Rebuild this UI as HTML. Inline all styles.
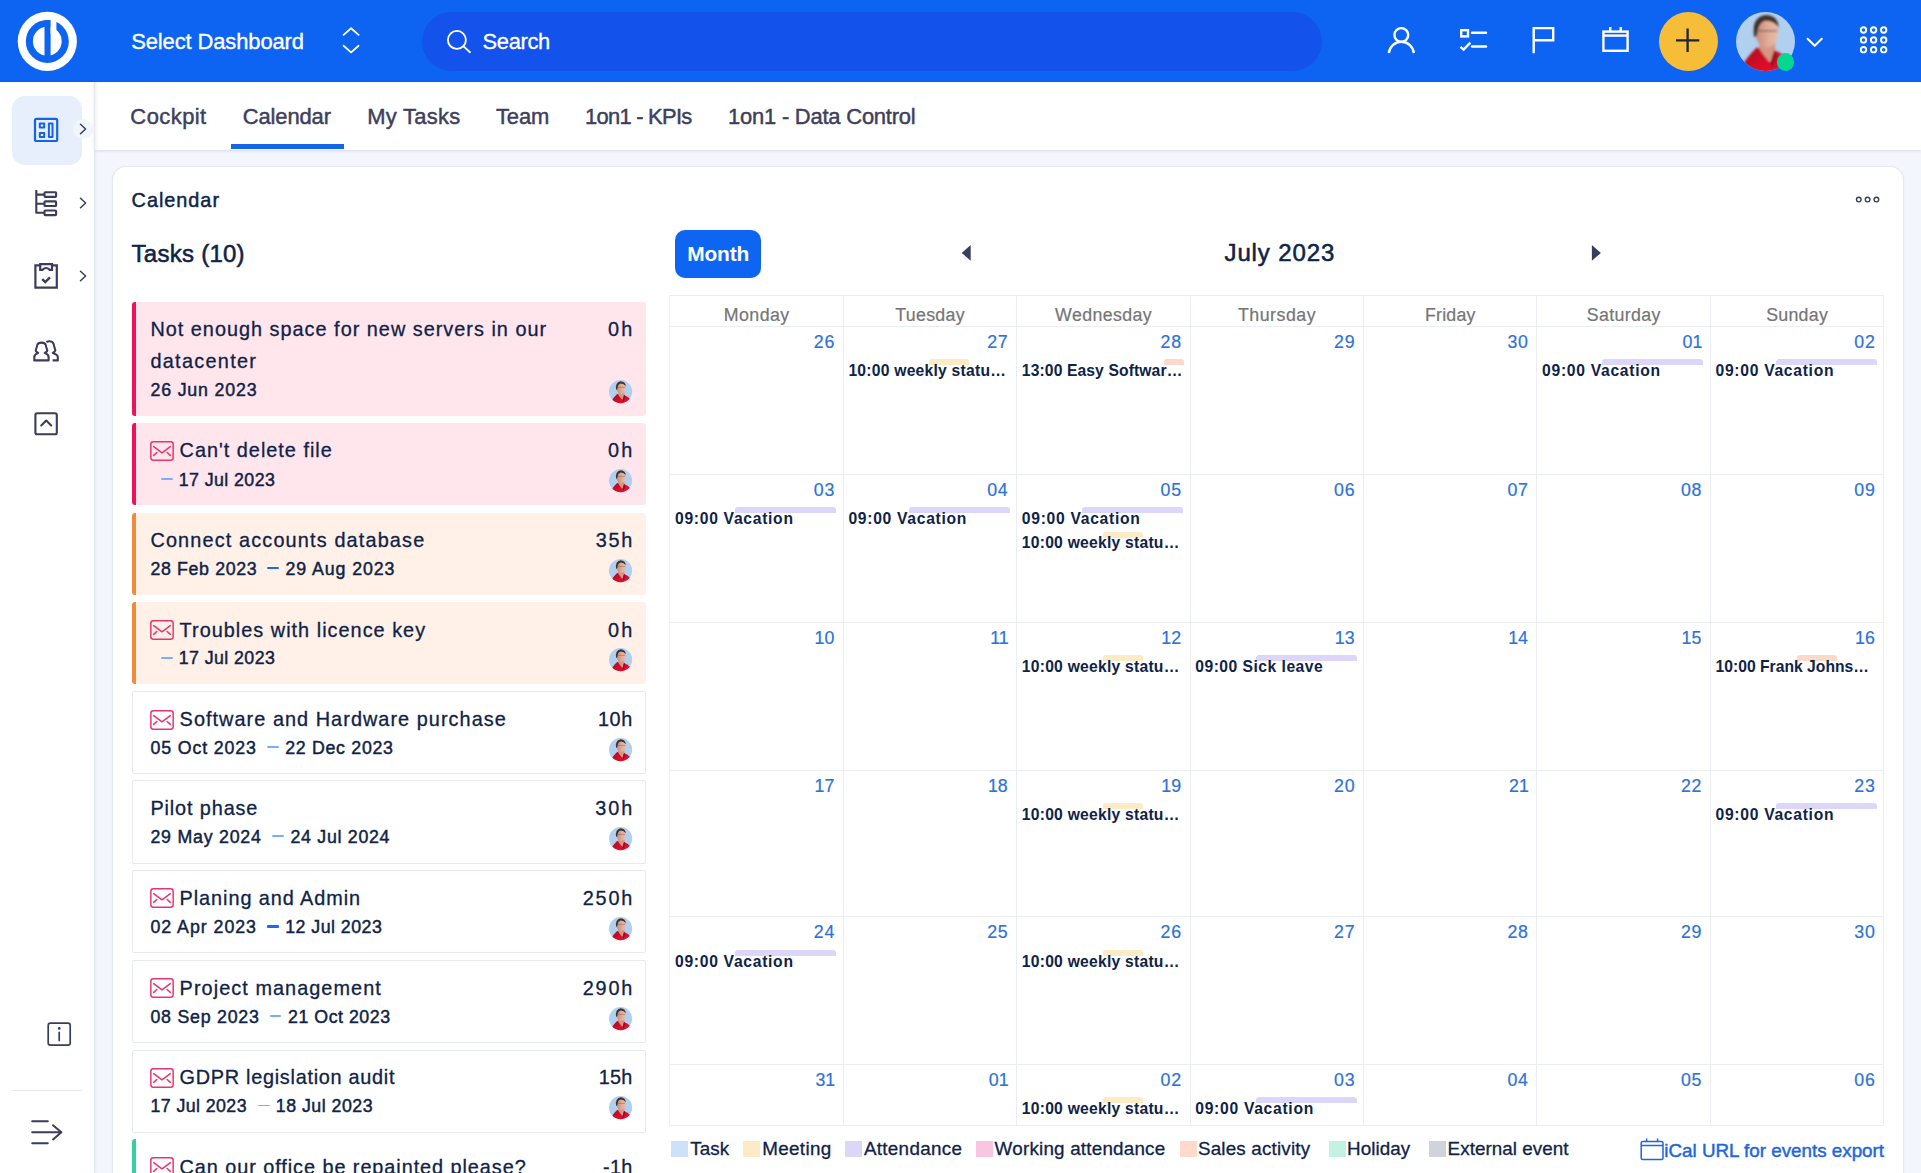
<!DOCTYPE html>
<html lang="en"><head><meta charset="utf-8"><title>Calendar - Easy Project</title>
<style>
*{box-sizing:border-box}
html,body{margin:0;padding:0}
body{width:1921px;height:1173px;overflow:hidden;background:#f3f6fc;font-family:"Liberation Sans",Arial,sans-serif;color:#0f2347;position:relative}
.t{position:absolute;white-space:pre;line-height:1;margin:0;padding:0;font-weight:400}
.abs{position:absolute}
button.t{background:none;border:0;font-family:inherit;cursor:pointer}
a.t{text-decoration:none}
h2.t,h3.t{font-weight:400}
svg{position:absolute;overflow:visible}
header{position:absolute;left:0;top:0;width:1921px;height:82.5px;background:#0d64f2}
.search{position:absolute;left:421.5px;top:12px;width:900px;height:59px;border-radius:30px;background:#1452ec}
.side{position:absolute;left:0;top:82px;width:94px;height:1091px;background:#fff;box-shadow:1px 0 3px rgba(30,50,90,.10)}
.tabs{position:absolute;left:94px;top:82px;width:1827px;height:67.8px;background:#fff;box-shadow:0 1px 3px rgba(30,50,90,.13),inset 4px 0 4px -3px rgba(30,50,90,.16)}
.card{position:absolute;left:112.6px;top:166.8px;width:1790.4px;height:1030px;background:#fff;border-radius:13px;box-shadow:0 0 0 1px #e4e8f0,0 1px 4px rgba(30,50,90,.06)}
.task{position:absolute;left:132px;width:514px;border-radius:3px}
.task.w{background:#fff;border:1px solid #e7eaf0;border-radius:2px}
.task.p{background:#ffe6ed;border-left:4px solid #ec1358}
.task.o{background:#fff0e8;border-left:4px solid #f08a3c}
.task.g{background:#fff;border-left:4px solid #35cfa0;}
.gl{position:absolute;background:#eaedf1}
.bar{position:absolute;height:6px;border-radius:3px 3px 0 0}
.sw{position:absolute;width:17px;height:16px;top:1140.5px}
</style></head><body>
<header><svg style="left:17px;top:11px" width="61" height="61" viewBox="17 11 61 61">
<circle cx="47.3" cy="41.4" r="29.6" fill="#fff"/>
<circle cx="47.3" cy="41.4" r="21.5" fill="#0d64f2"/>
<circle cx="47.3" cy="41.2" r="14.4" fill="#fff"/>
<rect x="44.5" y="20" width="6.1" height="36" fill="#0d64f2"/>
<path d="M50.6 14 H56.4 V31 L50.6 34 Z" fill="#fff"/>
</svg><span class="t" style="left:131.16px;top:31.00px;font-size:21.95px;letter-spacing:-0.102px;color:#fff;-webkit-text-stroke:0.35px currentColor;">Select Dashboard</span><svg style="left:340px;top:26px" width="22" height="30" viewBox="340 26 22 30" fill="none" stroke="#fff" stroke-width="1.8" stroke-linecap="round" stroke-linejoin="round">
<path d="M343.6 34.9 L351.1 28.3 L358.6 34.9"/><path d="M343.6 45.8 L351.1 52.4 L358.6 45.8"/></svg><div class="search"></div><svg style="left:445px;top:29px" width="28" height="26" viewBox="445 29 28 26" fill="none" stroke="#fff" stroke-width="1.85" stroke-linecap="round">
<circle cx="456.9" cy="39.9" r="9"/><path d="M463.6 46.4 L470 52.2"/></svg><span class="t" style="left:482.56px;top:31.00px;font-size:21.95px;letter-spacing:-0.371px;color:#fff;-webkit-text-stroke:0.3px currentColor;">Search</span><svg style="left:1380px;top:20px" width="260" height="40" viewBox="1380 20 260 40" fill="none" stroke="#fff" stroke-width="2.4" stroke-linecap="butt" stroke-linejoin="miter">
<circle cx="1401.3" cy="35" r="6.9"/>
<path d="M1388.8 53.2 A12.6 12.6 0 0 1 1413.9 53.2" />
<rect x="1461.2" y="30.2" width="6.8" height="6.2"/>
<path d="M1472 32.8 H1486" stroke-linecap="round"/>
<path d="M1472 46.5 H1486" stroke-linecap="round"/>
<path d="M1460.5 46.8 L1463.6 49.6 L1470.4 42.6"/>
<path d="M1533.7 53.2 V28.1 H1553.2 V40.3 H1533.7"/>
<rect x="1603.4" y="31.6" width="24.2" height="19.2"/>
<path d="M1603.4 35.6 H1627.6"/>
<path d="M1610.2 26.9 V31.6 M1620.7 26.9 V31.6"/>
</svg><div class="abs" style="left:1658.7px;top:11.7px;width:59.2px;height:59.2px;border-radius:50%;background:#f5bd38"></div><svg style="left:1670px;top:24px" width="36" height="36" viewBox="1670 24 36 36" stroke="#1d2433" stroke-width="2.3" fill="none"><path d="M1676 40.3 H1699.3 M1687.6 28.6 V52"/></svg><svg style="left:1735.50px;top:11.80px" width="59.00" height="59.00" viewBox="-1 -1 2 2">
<defs><clipPath id="ca0"><circle cx="0" cy="0" r="1"/></clipPath><filter id="fa0" x="-0.2" y="-0.2" width="1.4" height="1.4"><feGaussianBlur stdDeviation="0.04"/></filter>
<linearGradient id="sa0" x1="0" x2="1" y1="0" y2="0.6"><stop offset="0" stop-color="#a30c1e"/><stop offset="0.55" stop-color="#d80d2b"/><stop offset="1" stop-color="#e8102f"/></linearGradient>
<linearGradient id="ka0" x1="0" x2="1" y1="0" y2="0"><stop offset="0" stop-color="#c48a78"/><stop offset="0.6" stop-color="#e2ae9b"/><stop offset="1" stop-color="#e9bba9"/></linearGradient></defs>
<g clip-path="url(#ca0)">
<rect x="-1.2" y="-1.2" width="2.4" height="2.4" fill="#b1cfee"/>
<g filter="url(#fa0)">
<path d="M-0.2 0.0 L-0.24 0.3 L0.1 0.7 L0.36 0.4 L0.3 0.0 Z" fill="#d39783"/>
<path d="M-0.85 1.2 L-0.7 0.66 Q-0.52 0.42 -0.3 0.2 L-0.22 0.22 Q-0.05 0.5 0.16 0.72 L0.3 0.3 Q0.64 0.44 0.8 0.62 L0.98 1.2 Z" fill="url(#sa0)"/>
<path d="M0.16 0.72 L0.3 0.3 L0.4 0.44 L0.24 0.9 Z" fill="#9c0b1c"/>
<ellipse cx="0.04" cy="-0.32" rx="0.38" ry="0.52" fill="url(#ka0)"/>
<path d="M-0.38 -0.14 Q-0.5 -0.82 0.0 -0.9 Q0.44 -0.88 0.44 -0.46 Q0.3 -0.7 0.02 -0.7 Q-0.24 -0.68 -0.29 -0.2 Z" fill="#40322c"/>
<path d="M-0.3 -0.36 H0.4" stroke="#6e534a" stroke-width="0.055" stroke-opacity="0.65" fill="none"/>
</g></g></svg><div class="abs" style="left:1776.8px;top:53.4px;width:17.6px;height:17.6px;border-radius:50%;background:#05d690"></div><svg style="left:1805px;top:36px" width="20" height="14" viewBox="1805 36 20 14" fill="none" stroke="#fff" stroke-width="2" stroke-linecap="round" stroke-linejoin="round"><path d="M1807.6 38.8 L1814.7 45.8 L1821.8 38.8"/></svg><svg style="left:1858px;top:24px" width="32" height="32" viewBox="1858 24 32 32" fill="none" stroke="#fff" stroke-width="1.9"><circle cx="1863.5" cy="30" r="2.7"/><circle cx="1863.5" cy="39.9" r="2.7"/><circle cx="1863.5" cy="49.7" r="2.7"/><circle cx="1873.6" cy="30" r="2.7"/><circle cx="1873.6" cy="39.9" r="2.7"/><circle cx="1873.6" cy="49.7" r="2.7"/><circle cx="1883.7" cy="30" r="2.7"/><circle cx="1883.7" cy="39.9" r="2.7"/><circle cx="1883.7" cy="49.7" r="2.7"/></svg></header><div class="side"></div><nav aria-label="Main menu"><div class="abs" style="left:12px;top:96px;width:69.5px;height:69px;border-radius:13px;background:#e7effc"></div><div class="abs" style="left:73px;top:119px;width:20px;height:20px;border-radius:50%;background:#f1f5fd"></div><svg style="left:33px;top:117px" width="27" height="27" viewBox="33 117 27 27" fill="none" stroke="#1763e6" stroke-width="2.2" stroke-linejoin="round">
<rect x="35" y="118.8" width="22.2" height="22.2" rx="1.6"/>
<rect x="39.8" y="123.4" width="4.4" height="4.2" stroke-width="2"/>
<rect x="39.8" y="132.9" width="4.4" height="4.2" stroke-width="2"/>
<rect x="48.9" y="123.4" width="3.6" height="13.7" stroke-width="2"/>
</svg><svg style="left:76.8px;top:121.4px" width="12" height="16" viewBox="76.8 121.4 12 16" fill="none" stroke="#3a3d5c" stroke-width="1.5" stroke-linecap="round" stroke-linejoin="round"><path d="M80.3 124.60000000000001 L85.39999999999999 129.4 L80.3 134.20000000000002"/></svg><svg style="left:76.8px;top:194.7px" width="12" height="16" viewBox="76.8 194.7 12 16" fill="none" stroke="#3a3d5c" stroke-width="1.5" stroke-linecap="round" stroke-linejoin="round"><path d="M80.3 197.89999999999998 L85.39999999999999 202.7 L80.3 207.5"/></svg><svg style="left:76.8px;top:268.2px" width="12" height="16" viewBox="76.8 268.2 12 16" fill="none" stroke="#3a3d5c" stroke-width="1.5" stroke-linecap="round" stroke-linejoin="round"><path d="M80.3 271.4 L85.39999999999999 276.2 L80.3 281.0"/></svg><svg style="left:33px;top:188px" width="27" height="30" viewBox="33 188 27 30" fill="none" stroke="#3a3d5c" stroke-width="2.1" stroke-linejoin="round">
<path d="M36.3 189.9 V212.8 H44.5 M36.3 194.6 H44.5 M36.3 203.7 H44.5"/>
<rect x="44.5" y="192.3" width="11.6" height="4.6" rx="0.8"/>
<rect x="44.5" y="201.4" width="11.6" height="4.6" rx="0.8"/>
<rect x="44.5" y="210.5" width="11.6" height="4.6" rx="0.8"/>
</svg><svg style="left:33px;top:261px" width="27" height="30" viewBox="33 261 27 30" fill="none" stroke="#3a3d5c" stroke-width="2.2" stroke-linejoin="miter">
<path d="M40.2 265.4 H35.4 V287.7 H56.8 V265.4 H52"/>
<path d="M40.2 264.2 H52 V269.8 H49.6 Q46.1 266.2 42.6 269.8 H40.2 Z"/>
<path d="M42.2 279.2 L45.2 282 L50 277.4" stroke-width="2.4"/>
</svg><svg style="left:32px;top:339px" width="29" height="25" viewBox="32 339 29 25" fill="none" stroke="#3a3d5c" stroke-width="2.1" stroke-linejoin="round">
<path d="M34.3 360.4 V357 Q34.3 354.6 38.2 352.9 Q35.4 351.4 35.8 350 Q37 346.8 37.2 345 Q38 342.6 41.5 342.6 Q45 342.6 45.8 345 Q46 346.8 47.2 350 Q47.6 351.4 44.8 352.9 Q48.6 354.6 48.6 357 V360.4 Z"/>
<path d="M46.4 342 Q47.6 341.3 49.2 341.3 Q53 341.3 53.8 344.6 Q54.2 346.8 55.3 350 Q55.6 351.4 52.8 352.9 Q57.8 354.4 57.8 357 V360.4 H52.6"/>
</svg><svg style="left:33px;top:411px" width="27" height="26" viewBox="33 411 27 26" fill="none" stroke="#3a3d5c" stroke-width="2.1" stroke-linejoin="round" stroke-linecap="round">
<rect x="35.4" y="413.2" width="21.4" height="21" rx="1.8"/>
<path d="M41.3 425.4 L46.2 420.6 L51.2 425.4"/>
</svg><svg style="left:46px;top:1021px" width="27" height="27" viewBox="46 1021 27 27" fill="none" stroke="#3a3d5c" stroke-width="1.7" stroke-linejoin="round" stroke-linecap="round">
<rect x="48.2" y="1023.2" width="22" height="22" rx="2.2"/>
<path d="M59.2 1032.4 V1040.4"/><circle cx="59.2" cy="1028.4" r="0.6" fill="#3a3d5c"/>
</svg><div class="abs" style="left:12px;top:1089.5px;width:69.5px;height:1px;background:#e8ebf1"></div><svg style="left:30px;top:1118px" width="34" height="28" viewBox="30 1118 34 28" fill="none" stroke="#3a3d5c" stroke-width="2" stroke-linecap="round" stroke-linejoin="round">
<path d="M32.2 1121.2 H47.8 M32.2 1132.3 H61 M32.2 1143.3 H47.8 M53 1125.2 L61.4 1132.3 L53 1139.4"/>
</svg></nav><div class="tabs"></div><nav aria-label="Dashboard tabs"><a class="t" style="left:130.36px;top:106.00px;font-size:21.95px;letter-spacing:0.450px;color:#3d405c;-webkit-text-stroke:0.45px currentColor;">Cockpit</a><a class="t" style="left:242.66px;top:106.00px;font-size:21.95px;letter-spacing:-0.096px;color:#3d405c;-webkit-text-stroke:0.45px currentColor;">Calendar</a><a class="t" style="left:367.26px;top:106.00px;font-size:21.95px;letter-spacing:0.263px;color:#3d405c;-webkit-text-stroke:0.45px currentColor;">My Tasks</a><a class="t" style="left:496.06px;top:106.00px;font-size:21.95px;letter-spacing:-0.166px;color:#3d405c;-webkit-text-stroke:0.45px currentColor;">Team</a><a class="t" style="left:585.06px;top:106.00px;font-size:21.95px;letter-spacing:-0.748px;color:#3d405c;-webkit-text-stroke:0.45px currentColor;">1on1 - KPIs</a><a class="t" style="left:728.06px;top:106.00px;font-size:21.95px;letter-spacing:-0.211px;color:#3d405c;-webkit-text-stroke:0.45px currentColor;">1on1 - Data Control</a><div class="abs" style="left:230.5px;top:144.3px;width:113.5px;height:4.4px;background:#1466e8"></div></nav><main><div class="card"></div><h2 class="t" style="left:131.60px;top:191.00px;font-size:19.85px;letter-spacing:0.981px;color:#0f2347;-webkit-text-stroke:0.45px currentColor;">Calendar</h2><svg style="left:1854px;top:195px" width="28" height="10" viewBox="1854 195 28 10" fill="none" stroke="#3a3d5c" stroke-width="1.4">
<circle cx="1858.8" cy="199.6" r="2.3"/><circle cx="1867.6" cy="199.6" r="2.3"/><circle cx="1876.4" cy="199.6" r="2.3"/></svg><section aria-label="Tasks"><h3 class="t" style="left:131.52px;top:242.00px;font-size:24.03px;letter-spacing:0.260px;color:#0f2347;-webkit-text-stroke:0.55px currentColor;">Tasks (10)</h3><article><div class="task p" style="top:302px;height:113.5px"></div><span class="t" style="left:150.40px;top:320.00px;font-size:19.85px;letter-spacing:1.008px;color:#0f2347;-webkit-text-stroke:0.3px currentColor;">Not enough space for new servers in our</span><span class="t" style="left:608.10px;top:320.00px;font-size:19.85px;letter-spacing:2.122px;color:#0f2347;-webkit-text-stroke:0.3px currentColor;">0h</span><span class="t" style="left:150.40px;top:352.00px;font-size:19.85px;letter-spacing:1.313px;color:#0f2347;-webkit-text-stroke:0.3px currentColor;">datacenter</span><span class="t" style="left:150.44px;top:382.00px;font-size:17.77px;letter-spacing:0.832px;color:#0f2347;-webkit-text-stroke:0.45px currentColor;">26 Jun 2023</span><svg style="left:609.00px;top:379.70px" width="23.20" height="23.20" viewBox="-1 -1 2 2">
<defs><clipPath id="ct0"><circle cx="0" cy="0" r="1"/></clipPath><filter id="ft0" x="-0.2" y="-0.2" width="1.4" height="1.4"><feGaussianBlur stdDeviation="0.04"/></filter>
<linearGradient id="st0" x1="0" x2="1" y1="0" y2="0.6"><stop offset="0" stop-color="#a30c1e"/><stop offset="0.55" stop-color="#d80d2b"/><stop offset="1" stop-color="#e8102f"/></linearGradient>
<linearGradient id="kt0" x1="0" x2="1" y1="0" y2="0"><stop offset="0" stop-color="#c48a78"/><stop offset="0.6" stop-color="#e2ae9b"/><stop offset="1" stop-color="#e9bba9"/></linearGradient></defs>
<g clip-path="url(#ct0)">
<rect x="-1.2" y="-1.2" width="2.4" height="2.4" fill="#b1cfee"/>
<g filter="url(#ft0)">
<path d="M-0.2 0.0 L-0.24 0.3 L0.1 0.7 L0.36 0.4 L0.3 0.0 Z" fill="#d39783"/>
<path d="M-0.85 1.2 L-0.7 0.66 Q-0.52 0.42 -0.3 0.2 L-0.22 0.22 Q-0.05 0.5 0.16 0.72 L0.3 0.3 Q0.64 0.44 0.8 0.62 L0.98 1.2 Z" fill="url(#st0)"/>
<path d="M0.16 0.72 L0.3 0.3 L0.4 0.44 L0.24 0.9 Z" fill="#9c0b1c"/>
<ellipse cx="0.04" cy="-0.32" rx="0.38" ry="0.52" fill="url(#kt0)"/>
<path d="M-0.38 -0.14 Q-0.5 -0.82 0.0 -0.9 Q0.44 -0.88 0.44 -0.46 Q0.3 -0.7 0.02 -0.7 Q-0.24 -0.68 -0.29 -0.2 Z" fill="#40322c"/>
<path d="M-0.3 -0.36 H0.4" stroke="#6e534a" stroke-width="0.055" stroke-opacity="0.65" fill="none"/>
</g></g></svg></article><article><div class="task p" style="top:422.8px;height:82.2px"></div><svg style="left:150.2px;top:440.5px" width="24" height="20" viewBox="0 0 24 20" fill="none" stroke="#e9356f" stroke-width="1.5" stroke-linejoin="round" stroke-linecap="round">
<rect x="0.85" y="0.85" width="22.3" height="18.3" rx="2.4"/>
<path d="M3.7 5.6 L12 11.8 L20.3 5.6"/><path d="M3.7 14.4 L6.8 11.5 M20.3 14.4 L17.2 11.5"/></svg><span class="t" style="left:179.60px;top:441.00px;font-size:19.85px;letter-spacing:1.001px;color:#0f2347;-webkit-text-stroke:0.3px currentColor;">Can't delete file</span><span class="t" style="left:608.10px;top:441.00px;font-size:19.85px;letter-spacing:2.122px;color:#0f2347;-webkit-text-stroke:0.3px currentColor;">0h</span><div class="abs" style="left:161px;top:478.4px;width:11.7px;height:1.8px;border-radius:1px;background:#7aaef6"></div><span class="t" style="left:178.74px;top:472.00px;font-size:17.77px;letter-spacing:0.426px;color:#0f2347;-webkit-text-stroke:0.45px currentColor;">17 Jul 2023</span><svg style="left:609.00px;top:468.80px" width="23.20" height="23.20" viewBox="-1 -1 2 2">
<defs><clipPath id="ct1"><circle cx="0" cy="0" r="1"/></clipPath><filter id="ft1" x="-0.2" y="-0.2" width="1.4" height="1.4"><feGaussianBlur stdDeviation="0.04"/></filter>
<linearGradient id="st1" x1="0" x2="1" y1="0" y2="0.6"><stop offset="0" stop-color="#a30c1e"/><stop offset="0.55" stop-color="#d80d2b"/><stop offset="1" stop-color="#e8102f"/></linearGradient>
<linearGradient id="kt1" x1="0" x2="1" y1="0" y2="0"><stop offset="0" stop-color="#c48a78"/><stop offset="0.6" stop-color="#e2ae9b"/><stop offset="1" stop-color="#e9bba9"/></linearGradient></defs>
<g clip-path="url(#ct1)">
<rect x="-1.2" y="-1.2" width="2.4" height="2.4" fill="#b1cfee"/>
<g filter="url(#ft1)">
<path d="M-0.2 0.0 L-0.24 0.3 L0.1 0.7 L0.36 0.4 L0.3 0.0 Z" fill="#d39783"/>
<path d="M-0.85 1.2 L-0.7 0.66 Q-0.52 0.42 -0.3 0.2 L-0.22 0.22 Q-0.05 0.5 0.16 0.72 L0.3 0.3 Q0.64 0.44 0.8 0.62 L0.98 1.2 Z" fill="url(#st1)"/>
<path d="M0.16 0.72 L0.3 0.3 L0.4 0.44 L0.24 0.9 Z" fill="#9c0b1c"/>
<ellipse cx="0.04" cy="-0.32" rx="0.38" ry="0.52" fill="url(#kt1)"/>
<path d="M-0.38 -0.14 Q-0.5 -0.82 0.0 -0.9 Q0.44 -0.88 0.44 -0.46 Q0.3 -0.7 0.02 -0.7 Q-0.24 -0.68 -0.29 -0.2 Z" fill="#40322c"/>
<path d="M-0.3 -0.36 H0.4" stroke="#6e534a" stroke-width="0.055" stroke-opacity="0.65" fill="none"/>
</g></g></svg></article><article><div class="task o" style="top:512.5px;height:82.2px"></div><span class="t" style="left:150.40px;top:531.00px;font-size:19.85px;letter-spacing:1.157px;color:#0f2347;-webkit-text-stroke:0.3px currentColor;">Connect accounts database</span><span class="t" style="left:595.80px;top:531.00px;font-size:19.85px;letter-spacing:1.695px;color:#0f2347;-webkit-text-stroke:0.3px currentColor;">35h</span><span class="t" style="left:150.44px;top:561.00px;font-size:17.77px;letter-spacing:0.635px;color:#0f2347;-webkit-text-stroke:0.45px currentColor;">28 Feb 2023</span><div class="abs" style="left:267.4px;top:567.0px;width:11.7px;height:2.4px;border-radius:1px;background:#1a6af0"></div><span class="t" style="left:285.44px;top:561.00px;font-size:17.77px;letter-spacing:0.924px;color:#0f2347;-webkit-text-stroke:0.45px currentColor;">29 Aug 2023</span><svg style="left:609.00px;top:558.50px" width="23.20" height="23.20" viewBox="-1 -1 2 2">
<defs><clipPath id="ct2"><circle cx="0" cy="0" r="1"/></clipPath><filter id="ft2" x="-0.2" y="-0.2" width="1.4" height="1.4"><feGaussianBlur stdDeviation="0.04"/></filter>
<linearGradient id="st2" x1="0" x2="1" y1="0" y2="0.6"><stop offset="0" stop-color="#a30c1e"/><stop offset="0.55" stop-color="#d80d2b"/><stop offset="1" stop-color="#e8102f"/></linearGradient>
<linearGradient id="kt2" x1="0" x2="1" y1="0" y2="0"><stop offset="0" stop-color="#c48a78"/><stop offset="0.6" stop-color="#e2ae9b"/><stop offset="1" stop-color="#e9bba9"/></linearGradient></defs>
<g clip-path="url(#ct2)">
<rect x="-1.2" y="-1.2" width="2.4" height="2.4" fill="#b1cfee"/>
<g filter="url(#ft2)">
<path d="M-0.2 0.0 L-0.24 0.3 L0.1 0.7 L0.36 0.4 L0.3 0.0 Z" fill="#d39783"/>
<path d="M-0.85 1.2 L-0.7 0.66 Q-0.52 0.42 -0.3 0.2 L-0.22 0.22 Q-0.05 0.5 0.16 0.72 L0.3 0.3 Q0.64 0.44 0.8 0.62 L0.98 1.2 Z" fill="url(#st2)"/>
<path d="M0.16 0.72 L0.3 0.3 L0.4 0.44 L0.24 0.9 Z" fill="#9c0b1c"/>
<ellipse cx="0.04" cy="-0.32" rx="0.38" ry="0.52" fill="url(#kt2)"/>
<path d="M-0.38 -0.14 Q-0.5 -0.82 0.0 -0.9 Q0.44 -0.88 0.44 -0.46 Q0.3 -0.7 0.02 -0.7 Q-0.24 -0.68 -0.29 -0.2 Z" fill="#40322c"/>
<path d="M-0.3 -0.36 H0.4" stroke="#6e534a" stroke-width="0.055" stroke-opacity="0.65" fill="none"/>
</g></g></svg></article><article><div class="task o" style="top:602.4px;height:82px"></div><svg style="left:150.2px;top:620.1px" width="24" height="20" viewBox="0 0 24 20" fill="none" stroke="#e9356f" stroke-width="1.5" stroke-linejoin="round" stroke-linecap="round">
<rect x="0.85" y="0.85" width="22.3" height="18.3" rx="2.4"/>
<path d="M3.7 5.6 L12 11.8 L20.3 5.6"/><path d="M3.7 14.4 L6.8 11.5 M20.3 14.4 L17.2 11.5"/></svg><span class="t" style="left:179.60px;top:621.00px;font-size:19.85px;letter-spacing:1.023px;color:#0f2347;-webkit-text-stroke:0.3px currentColor;">Troubles with licence key</span><span class="t" style="left:608.10px;top:621.00px;font-size:19.85px;letter-spacing:2.122px;color:#0f2347;-webkit-text-stroke:0.3px currentColor;">0h</span><div class="abs" style="left:161px;top:656.9px;width:11.7px;height:1.8px;border-radius:1px;background:#7aaef6"></div><span class="t" style="left:178.74px;top:650.00px;font-size:17.77px;letter-spacing:0.426px;color:#0f2347;-webkit-text-stroke:0.45px currentColor;">17 Jul 2023</span><svg style="left:609.00px;top:648.40px" width="23.20" height="23.20" viewBox="-1 -1 2 2">
<defs><clipPath id="ct3"><circle cx="0" cy="0" r="1"/></clipPath><filter id="ft3" x="-0.2" y="-0.2" width="1.4" height="1.4"><feGaussianBlur stdDeviation="0.04"/></filter>
<linearGradient id="st3" x1="0" x2="1" y1="0" y2="0.6"><stop offset="0" stop-color="#a30c1e"/><stop offset="0.55" stop-color="#d80d2b"/><stop offset="1" stop-color="#e8102f"/></linearGradient>
<linearGradient id="kt3" x1="0" x2="1" y1="0" y2="0"><stop offset="0" stop-color="#c48a78"/><stop offset="0.6" stop-color="#e2ae9b"/><stop offset="1" stop-color="#e9bba9"/></linearGradient></defs>
<g clip-path="url(#ct3)">
<rect x="-1.2" y="-1.2" width="2.4" height="2.4" fill="#b1cfee"/>
<g filter="url(#ft3)">
<path d="M-0.2 0.0 L-0.24 0.3 L0.1 0.7 L0.36 0.4 L0.3 0.0 Z" fill="#d39783"/>
<path d="M-0.85 1.2 L-0.7 0.66 Q-0.52 0.42 -0.3 0.2 L-0.22 0.22 Q-0.05 0.5 0.16 0.72 L0.3 0.3 Q0.64 0.44 0.8 0.62 L0.98 1.2 Z" fill="url(#st3)"/>
<path d="M0.16 0.72 L0.3 0.3 L0.4 0.44 L0.24 0.9 Z" fill="#9c0b1c"/>
<ellipse cx="0.04" cy="-0.32" rx="0.38" ry="0.52" fill="url(#kt3)"/>
<path d="M-0.38 -0.14 Q-0.5 -0.82 0.0 -0.9 Q0.44 -0.88 0.44 -0.46 Q0.3 -0.7 0.02 -0.7 Q-0.24 -0.68 -0.29 -0.2 Z" fill="#40322c"/>
<path d="M-0.3 -0.36 H0.4" stroke="#6e534a" stroke-width="0.055" stroke-opacity="0.65" fill="none"/>
</g></g></svg></article><article><div class="task w" style="top:691.3px;height:83.0px"></div><svg style="left:150.2px;top:709.5px" width="24" height="20" viewBox="0 0 24 20" fill="none" stroke="#e9356f" stroke-width="1.5" stroke-linejoin="round" stroke-linecap="round">
<rect x="0.85" y="0.85" width="22.3" height="18.3" rx="2.4"/>
<path d="M3.7 5.6 L12 11.8 L20.3 5.6"/><path d="M3.7 14.4 L6.8 11.5 M20.3 14.4 L17.2 11.5"/></svg><span class="t" style="left:179.60px;top:710.00px;font-size:19.85px;letter-spacing:1.054px;color:#0f2347;-webkit-text-stroke:0.3px currentColor;">Software and Hardware purchase</span><span class="t" style="left:597.90px;top:710.00px;font-size:19.85px;letter-spacing:0.645px;color:#0f2347;-webkit-text-stroke:0.3px currentColor;">10h</span><span class="t" style="left:150.44px;top:740.00px;font-size:17.77px;letter-spacing:0.874px;color:#0f2347;-webkit-text-stroke:0.45px currentColor;">05 Oct 2023</span><div class="abs" style="left:267.4px;top:746.3px;width:11.7px;height:1.8px;border-radius:1px;background:#7aaef6"></div><span class="t" style="left:285.14px;top:740.00px;font-size:17.77px;letter-spacing:0.708px;color:#0f2347;-webkit-text-stroke:0.45px currentColor;">22 Dec 2023</span><svg style="left:609.00px;top:737.80px" width="23.20" height="23.20" viewBox="-1 -1 2 2">
<defs><clipPath id="ct4"><circle cx="0" cy="0" r="1"/></clipPath><filter id="ft4" x="-0.2" y="-0.2" width="1.4" height="1.4"><feGaussianBlur stdDeviation="0.04"/></filter>
<linearGradient id="st4" x1="0" x2="1" y1="0" y2="0.6"><stop offset="0" stop-color="#a30c1e"/><stop offset="0.55" stop-color="#d80d2b"/><stop offset="1" stop-color="#e8102f"/></linearGradient>
<linearGradient id="kt4" x1="0" x2="1" y1="0" y2="0"><stop offset="0" stop-color="#c48a78"/><stop offset="0.6" stop-color="#e2ae9b"/><stop offset="1" stop-color="#e9bba9"/></linearGradient></defs>
<g clip-path="url(#ct4)">
<rect x="-1.2" y="-1.2" width="2.4" height="2.4" fill="#b1cfee"/>
<g filter="url(#ft4)">
<path d="M-0.2 0.0 L-0.24 0.3 L0.1 0.7 L0.36 0.4 L0.3 0.0 Z" fill="#d39783"/>
<path d="M-0.85 1.2 L-0.7 0.66 Q-0.52 0.42 -0.3 0.2 L-0.22 0.22 Q-0.05 0.5 0.16 0.72 L0.3 0.3 Q0.64 0.44 0.8 0.62 L0.98 1.2 Z" fill="url(#st4)"/>
<path d="M0.16 0.72 L0.3 0.3 L0.4 0.44 L0.24 0.9 Z" fill="#9c0b1c"/>
<ellipse cx="0.04" cy="-0.32" rx="0.38" ry="0.52" fill="url(#kt4)"/>
<path d="M-0.38 -0.14 Q-0.5 -0.82 0.0 -0.9 Q0.44 -0.88 0.44 -0.46 Q0.3 -0.7 0.02 -0.7 Q-0.24 -0.68 -0.29 -0.2 Z" fill="#40322c"/>
<path d="M-0.3 -0.36 H0.4" stroke="#6e534a" stroke-width="0.055" stroke-opacity="0.65" fill="none"/>
</g></g></svg></article><article><div class="task w" style="top:780.4px;height:83.2px"></div><span class="t" style="left:150.40px;top:799.00px;font-size:19.85px;letter-spacing:0.881px;color:#0f2347;-webkit-text-stroke:0.3px currentColor;">Pilot phase</span><span class="t" style="left:595.20px;top:799.00px;font-size:19.85px;letter-spacing:1.995px;color:#0f2347;-webkit-text-stroke:0.3px currentColor;">30h</span><span class="t" style="left:150.44px;top:829.00px;font-size:17.77px;letter-spacing:0.771px;color:#0f2347;-webkit-text-stroke:0.45px currentColor;">29 May 2024</span><div class="abs" style="left:272.4px;top:835.4px;width:11.7px;height:1.8px;border-radius:1px;background:#7aaef6"></div><span class="t" style="left:290.44px;top:829.00px;font-size:17.77px;letter-spacing:0.716px;color:#0f2347;-webkit-text-stroke:0.45px currentColor;">24 Jul 2024</span><svg style="left:609.00px;top:826.90px" width="23.20" height="23.20" viewBox="-1 -1 2 2">
<defs><clipPath id="ct5"><circle cx="0" cy="0" r="1"/></clipPath><filter id="ft5" x="-0.2" y="-0.2" width="1.4" height="1.4"><feGaussianBlur stdDeviation="0.04"/></filter>
<linearGradient id="st5" x1="0" x2="1" y1="0" y2="0.6"><stop offset="0" stop-color="#a30c1e"/><stop offset="0.55" stop-color="#d80d2b"/><stop offset="1" stop-color="#e8102f"/></linearGradient>
<linearGradient id="kt5" x1="0" x2="1" y1="0" y2="0"><stop offset="0" stop-color="#c48a78"/><stop offset="0.6" stop-color="#e2ae9b"/><stop offset="1" stop-color="#e9bba9"/></linearGradient></defs>
<g clip-path="url(#ct5)">
<rect x="-1.2" y="-1.2" width="2.4" height="2.4" fill="#b1cfee"/>
<g filter="url(#ft5)">
<path d="M-0.2 0.0 L-0.24 0.3 L0.1 0.7 L0.36 0.4 L0.3 0.0 Z" fill="#d39783"/>
<path d="M-0.85 1.2 L-0.7 0.66 Q-0.52 0.42 -0.3 0.2 L-0.22 0.22 Q-0.05 0.5 0.16 0.72 L0.3 0.3 Q0.64 0.44 0.8 0.62 L0.98 1.2 Z" fill="url(#st5)"/>
<path d="M0.16 0.72 L0.3 0.3 L0.4 0.44 L0.24 0.9 Z" fill="#9c0b1c"/>
<ellipse cx="0.04" cy="-0.32" rx="0.38" ry="0.52" fill="url(#kt5)"/>
<path d="M-0.38 -0.14 Q-0.5 -0.82 0.0 -0.9 Q0.44 -0.88 0.44 -0.46 Q0.3 -0.7 0.02 -0.7 Q-0.24 -0.68 -0.29 -0.2 Z" fill="#40322c"/>
<path d="M-0.3 -0.36 H0.4" stroke="#6e534a" stroke-width="0.055" stroke-opacity="0.65" fill="none"/>
</g></g></svg></article><article><div class="task w" style="top:870.2px;height:83.2px"></div><svg style="left:150.2px;top:888.4000000000001px" width="24" height="20" viewBox="0 0 24 20" fill="none" stroke="#e9356f" stroke-width="1.5" stroke-linejoin="round" stroke-linecap="round">
<rect x="0.85" y="0.85" width="22.3" height="18.3" rx="2.4"/>
<path d="M3.7 5.6 L12 11.8 L20.3 5.6"/><path d="M3.7 14.4 L6.8 11.5 M20.3 14.4 L17.2 11.5"/></svg><span class="t" style="left:179.60px;top:889.00px;font-size:19.85px;letter-spacing:0.938px;color:#0f2347;-webkit-text-stroke:0.3px currentColor;">Planing and Admin</span><span class="t" style="left:582.70px;top:889.00px;font-size:19.85px;letter-spacing:1.813px;color:#0f2347;-webkit-text-stroke:0.3px currentColor;">250h</span><span class="t" style="left:150.44px;top:919.00px;font-size:17.77px;letter-spacing:0.970px;color:#0f2347;-webkit-text-stroke:0.45px currentColor;">02 Apr 2023</span><div class="abs" style="left:267.4px;top:925.2px;width:11.7px;height:2.4px;border-radius:1px;background:#1a6af0"></div><span class="t" style="left:285.14px;top:919.00px;font-size:17.77px;letter-spacing:0.486px;color:#0f2347;-webkit-text-stroke:0.45px currentColor;">12 Jul 2023</span><svg style="left:609.00px;top:916.70px" width="23.20" height="23.20" viewBox="-1 -1 2 2">
<defs><clipPath id="ct6"><circle cx="0" cy="0" r="1"/></clipPath><filter id="ft6" x="-0.2" y="-0.2" width="1.4" height="1.4"><feGaussianBlur stdDeviation="0.04"/></filter>
<linearGradient id="st6" x1="0" x2="1" y1="0" y2="0.6"><stop offset="0" stop-color="#a30c1e"/><stop offset="0.55" stop-color="#d80d2b"/><stop offset="1" stop-color="#e8102f"/></linearGradient>
<linearGradient id="kt6" x1="0" x2="1" y1="0" y2="0"><stop offset="0" stop-color="#c48a78"/><stop offset="0.6" stop-color="#e2ae9b"/><stop offset="1" stop-color="#e9bba9"/></linearGradient></defs>
<g clip-path="url(#ct6)">
<rect x="-1.2" y="-1.2" width="2.4" height="2.4" fill="#b1cfee"/>
<g filter="url(#ft6)">
<path d="M-0.2 0.0 L-0.24 0.3 L0.1 0.7 L0.36 0.4 L0.3 0.0 Z" fill="#d39783"/>
<path d="M-0.85 1.2 L-0.7 0.66 Q-0.52 0.42 -0.3 0.2 L-0.22 0.22 Q-0.05 0.5 0.16 0.72 L0.3 0.3 Q0.64 0.44 0.8 0.62 L0.98 1.2 Z" fill="url(#st6)"/>
<path d="M0.16 0.72 L0.3 0.3 L0.4 0.44 L0.24 0.9 Z" fill="#9c0b1c"/>
<ellipse cx="0.04" cy="-0.32" rx="0.38" ry="0.52" fill="url(#kt6)"/>
<path d="M-0.38 -0.14 Q-0.5 -0.82 0.0 -0.9 Q0.44 -0.88 0.44 -0.46 Q0.3 -0.7 0.02 -0.7 Q-0.24 -0.68 -0.29 -0.2 Z" fill="#40322c"/>
<path d="M-0.3 -0.36 H0.4" stroke="#6e534a" stroke-width="0.055" stroke-opacity="0.65" fill="none"/>
</g></g></svg></article><article><div class="task w" style="top:960.0px;height:83.2px"></div><svg style="left:150.2px;top:978.2px" width="24" height="20" viewBox="0 0 24 20" fill="none" stroke="#e9356f" stroke-width="1.5" stroke-linejoin="round" stroke-linecap="round">
<rect x="0.85" y="0.85" width="22.3" height="18.3" rx="2.4"/>
<path d="M3.7 5.6 L12 11.8 L20.3 5.6"/><path d="M3.7 14.4 L6.8 11.5 M20.3 14.4 L17.2 11.5"/></svg><span class="t" style="left:179.60px;top:979.00px;font-size:19.85px;letter-spacing:1.064px;color:#0f2347;-webkit-text-stroke:0.3px currentColor;">Project management</span><span class="t" style="left:582.70px;top:979.00px;font-size:19.85px;letter-spacing:1.813px;color:#0f2347;-webkit-text-stroke:0.3px currentColor;">290h</span><span class="t" style="left:150.44px;top:1009.00px;font-size:17.77px;letter-spacing:0.767px;color:#0f2347;-webkit-text-stroke:0.45px currentColor;">08 Sep 2023</span><div class="abs" style="left:269.8px;top:1015.0px;width:11.7px;height:1.8px;border-radius:1px;background:#7aaef6"></div><span class="t" style="left:288.04px;top:1009.00px;font-size:17.77px;letter-spacing:0.524px;color:#0f2347;-webkit-text-stroke:0.45px currentColor;">21 Oct 2023</span><svg style="left:609.00px;top:1006.50px" width="23.20" height="23.20" viewBox="-1 -1 2 2">
<defs><clipPath id="ct7"><circle cx="0" cy="0" r="1"/></clipPath><filter id="ft7" x="-0.2" y="-0.2" width="1.4" height="1.4"><feGaussianBlur stdDeviation="0.04"/></filter>
<linearGradient id="st7" x1="0" x2="1" y1="0" y2="0.6"><stop offset="0" stop-color="#a30c1e"/><stop offset="0.55" stop-color="#d80d2b"/><stop offset="1" stop-color="#e8102f"/></linearGradient>
<linearGradient id="kt7" x1="0" x2="1" y1="0" y2="0"><stop offset="0" stop-color="#c48a78"/><stop offset="0.6" stop-color="#e2ae9b"/><stop offset="1" stop-color="#e9bba9"/></linearGradient></defs>
<g clip-path="url(#ct7)">
<rect x="-1.2" y="-1.2" width="2.4" height="2.4" fill="#b1cfee"/>
<g filter="url(#ft7)">
<path d="M-0.2 0.0 L-0.24 0.3 L0.1 0.7 L0.36 0.4 L0.3 0.0 Z" fill="#d39783"/>
<path d="M-0.85 1.2 L-0.7 0.66 Q-0.52 0.42 -0.3 0.2 L-0.22 0.22 Q-0.05 0.5 0.16 0.72 L0.3 0.3 Q0.64 0.44 0.8 0.62 L0.98 1.2 Z" fill="url(#st7)"/>
<path d="M0.16 0.72 L0.3 0.3 L0.4 0.44 L0.24 0.9 Z" fill="#9c0b1c"/>
<ellipse cx="0.04" cy="-0.32" rx="0.38" ry="0.52" fill="url(#kt7)"/>
<path d="M-0.38 -0.14 Q-0.5 -0.82 0.0 -0.9 Q0.44 -0.88 0.44 -0.46 Q0.3 -0.7 0.02 -0.7 Q-0.24 -0.68 -0.29 -0.2 Z" fill="#40322c"/>
<path d="M-0.3 -0.36 H0.4" stroke="#6e534a" stroke-width="0.055" stroke-opacity="0.65" fill="none"/>
</g></g></svg></article><article><div class="task w" style="top:1049.5px;height:83.0px"></div><svg style="left:150.2px;top:1067.7px" width="24" height="20" viewBox="0 0 24 20" fill="none" stroke="#e9356f" stroke-width="1.5" stroke-linejoin="round" stroke-linecap="round">
<rect x="0.85" y="0.85" width="22.3" height="18.3" rx="2.4"/>
<path d="M3.7 5.6 L12 11.8 L20.3 5.6"/><path d="M3.7 14.4 L6.8 11.5 M20.3 14.4 L17.2 11.5"/></svg><span class="t" style="left:179.60px;top:1068.00px;font-size:19.85px;letter-spacing:0.726px;color:#0f2347;-webkit-text-stroke:0.3px currentColor;">GDPR legislation audit</span><span class="t" style="left:598.70px;top:1068.00px;font-size:19.85px;letter-spacing:0.245px;color:#0f2347;-webkit-text-stroke:0.3px currentColor;">15h</span><span class="t" style="left:150.44px;top:1098.00px;font-size:17.77px;letter-spacing:0.426px;color:#0f2347;-webkit-text-stroke:0.45px currentColor;">17 Jul 2023</span><div class="abs" style="left:258.1px;top:1104.5px;width:11.7px;height:1.8px;border-radius:1px;background:#7aaef6"></div><span class="t" style="left:275.84px;top:1098.00px;font-size:17.77px;letter-spacing:0.486px;color:#0f2347;-webkit-text-stroke:0.45px currentColor;">18 Jul 2023</span><svg style="left:609.00px;top:1096.00px" width="23.20" height="23.20" viewBox="-1 -1 2 2">
<defs><clipPath id="ct8"><circle cx="0" cy="0" r="1"/></clipPath><filter id="ft8" x="-0.2" y="-0.2" width="1.4" height="1.4"><feGaussianBlur stdDeviation="0.04"/></filter>
<linearGradient id="st8" x1="0" x2="1" y1="0" y2="0.6"><stop offset="0" stop-color="#a30c1e"/><stop offset="0.55" stop-color="#d80d2b"/><stop offset="1" stop-color="#e8102f"/></linearGradient>
<linearGradient id="kt8" x1="0" x2="1" y1="0" y2="0"><stop offset="0" stop-color="#c48a78"/><stop offset="0.6" stop-color="#e2ae9b"/><stop offset="1" stop-color="#e9bba9"/></linearGradient></defs>
<g clip-path="url(#ct8)">
<rect x="-1.2" y="-1.2" width="2.4" height="2.4" fill="#b1cfee"/>
<g filter="url(#ft8)">
<path d="M-0.2 0.0 L-0.24 0.3 L0.1 0.7 L0.36 0.4 L0.3 0.0 Z" fill="#d39783"/>
<path d="M-0.85 1.2 L-0.7 0.66 Q-0.52 0.42 -0.3 0.2 L-0.22 0.22 Q-0.05 0.5 0.16 0.72 L0.3 0.3 Q0.64 0.44 0.8 0.62 L0.98 1.2 Z" fill="url(#st8)"/>
<path d="M0.16 0.72 L0.3 0.3 L0.4 0.44 L0.24 0.9 Z" fill="#9c0b1c"/>
<ellipse cx="0.04" cy="-0.32" rx="0.38" ry="0.52" fill="url(#kt8)"/>
<path d="M-0.38 -0.14 Q-0.5 -0.82 0.0 -0.9 Q0.44 -0.88 0.44 -0.46 Q0.3 -0.7 0.02 -0.7 Q-0.24 -0.68 -0.29 -0.2 Z" fill="#40322c"/>
<path d="M-0.3 -0.36 H0.4" stroke="#6e534a" stroke-width="0.055" stroke-opacity="0.65" fill="none"/>
</g></g></svg></article><article><div class="task g" style="top:1139.3px;height:82px"></div><svg style="left:150.2px;top:1157.0px" width="24" height="20" viewBox="0 0 24 20" fill="none" stroke="#e9356f" stroke-width="1.5" stroke-linejoin="round" stroke-linecap="round">
<rect x="0.85" y="0.85" width="22.3" height="18.3" rx="2.4"/>
<path d="M3.7 5.6 L12 11.8 L20.3 5.6"/><path d="M3.7 14.4 L6.8 11.5 M20.3 14.4 L17.2 11.5"/></svg><span class="t" style="left:179.60px;top:1158.00px;font-size:19.85px;letter-spacing:0.942px;color:#0f2347;-webkit-text-stroke:0.3px currentColor;">Can our office be repainted please?</span><span class="t" style="left:603.10px;top:1158.00px;font-size:19.85px;letter-spacing:0.256px;color:#0f2347;-webkit-text-stroke:0.3px currentColor;">-1h</span><svg style="left:609.00px;top:1185.30px" width="23.20" height="23.20" viewBox="-1 -1 2 2">
<defs><clipPath id="ct9"><circle cx="0" cy="0" r="1"/></clipPath><filter id="ft9" x="-0.2" y="-0.2" width="1.4" height="1.4"><feGaussianBlur stdDeviation="0.04"/></filter>
<linearGradient id="st9" x1="0" x2="1" y1="0" y2="0.6"><stop offset="0" stop-color="#a30c1e"/><stop offset="0.55" stop-color="#d80d2b"/><stop offset="1" stop-color="#e8102f"/></linearGradient>
<linearGradient id="kt9" x1="0" x2="1" y1="0" y2="0"><stop offset="0" stop-color="#c48a78"/><stop offset="0.6" stop-color="#e2ae9b"/><stop offset="1" stop-color="#e9bba9"/></linearGradient></defs>
<g clip-path="url(#ct9)">
<rect x="-1.2" y="-1.2" width="2.4" height="2.4" fill="#b1cfee"/>
<g filter="url(#ft9)">
<path d="M-0.2 0.0 L-0.24 0.3 L0.1 0.7 L0.36 0.4 L0.3 0.0 Z" fill="#d39783"/>
<path d="M-0.85 1.2 L-0.7 0.66 Q-0.52 0.42 -0.3 0.2 L-0.22 0.22 Q-0.05 0.5 0.16 0.72 L0.3 0.3 Q0.64 0.44 0.8 0.62 L0.98 1.2 Z" fill="url(#st9)"/>
<path d="M0.16 0.72 L0.3 0.3 L0.4 0.44 L0.24 0.9 Z" fill="#9c0b1c"/>
<ellipse cx="0.04" cy="-0.32" rx="0.38" ry="0.52" fill="url(#kt9)"/>
<path d="M-0.38 -0.14 Q-0.5 -0.82 0.0 -0.9 Q0.44 -0.88 0.44 -0.46 Q0.3 -0.7 0.02 -0.7 Q-0.24 -0.68 -0.29 -0.2 Z" fill="#40322c"/>
<path d="M-0.3 -0.36 H0.4" stroke="#6e534a" stroke-width="0.055" stroke-opacity="0.65" fill="none"/>
</g></g></svg></article></section><section aria-label="Calendar"><div class="abs" style="left:675px;top:230px;width:86px;height:47.8px;border-radius:10px;background:#0e65f2"></div><button class="t btn" style="left:687.28px;top:244.00px;font-size:20.9px;letter-spacing:-0.157px;font-weight:700;color:#fff;">Month</button><svg style="left:958px;top:242px" width="650" height="22" viewBox="958 242 650 22" fill="#3a3d5c">
<path d="M961.7 252.9 L970.7 245 V260.8 Z"/><path d="M1600.9 252.9 L1591.9 245 V260.8 Z"/></svg><h2 class="t" style="left:1224.52px;top:241.00px;font-size:24.03px;letter-spacing:0.864px;color:#0f2347;-webkit-text-stroke:0.55px currentColor;">July 2023</h2><div class="gl" style="left:669.3px;top:295.3px;width:1214.9px;height:1px"></div><div class="gl" style="left:669.3px;top:326px;width:1214.9px;height:1px"></div><div class="gl" style="left:669.3px;top:474px;width:1214.9px;height:1px"></div><div class="gl" style="left:669.3px;top:622px;width:1214.9px;height:1px"></div><div class="gl" style="left:669.3px;top:770px;width:1214.9px;height:1px"></div><div class="gl" style="left:669.3px;top:916px;width:1214.9px;height:1px"></div><div class="gl" style="left:669.3px;top:1064px;width:1214.9px;height:1px"></div><div class="gl" style="left:669.3px;top:1125px;width:1214.9px;height:1px"></div><div class="gl" style="left:669.3px;top:295.5px;width:1px;height:829.5px"></div><div class="gl" style="left:842.7px;top:295.5px;width:1px;height:829.5px"></div><div class="gl" style="left:1016.1px;top:295.5px;width:1px;height:829.5px"></div><div class="gl" style="left:1189.6px;top:295.5px;width:1px;height:829.5px"></div><div class="gl" style="left:1363.0px;top:295.5px;width:1px;height:829.5px"></div><div class="gl" style="left:1536.4px;top:295.5px;width:1px;height:829.5px"></div><div class="gl" style="left:1709.8px;top:295.5px;width:1px;height:829.5px"></div><div class="gl" style="left:1883.2px;top:295.5px;width:1px;height:829.5px"></div><span class="t" style="left:723.79px;top:307.00px;font-size:17.77px;letter-spacing:0.443px;color:#757575;-webkit-text-stroke:0.2px currentColor;">Monday</span><span class="t" style="left:895.16px;top:307.00px;font-size:17.77px;letter-spacing:0.341px;color:#757575;-webkit-text-stroke:0.2px currentColor;">Tuesday</span><span class="t" style="left:1055.08px;top:307.00px;font-size:17.77px;letter-spacing:0.379px;color:#757575;-webkit-text-stroke:0.2px currentColor;">Wednesday</span><span class="t" style="left:1238.00px;top:307.00px;font-size:17.77px;letter-spacing:0.496px;color:#757575;-webkit-text-stroke:0.2px currentColor;">Thursday</span><span class="t" style="left:1424.92px;top:307.00px;font-size:17.77px;letter-spacing:0.235px;color:#757575;-webkit-text-stroke:0.2px currentColor;">Friday</span><span class="t" style="left:1586.84px;top:307.00px;font-size:17.77px;letter-spacing:0.346px;color:#757575;-webkit-text-stroke:0.2px currentColor;">Saturday</span><span class="t" style="left:1766.26px;top:307.00px;font-size:17.77px;letter-spacing:0.253px;color:#757575;-webkit-text-stroke:0.2px currentColor;">Sunday</span><span class="t" style="left:813.78px;top:334.00px;font-size:17.77px;letter-spacing:0.734px;color:#2d72d9;-webkit-text-stroke:0.2px currentColor;">26</span><span class="t" style="left:987.20px;top:334.00px;font-size:17.77px;letter-spacing:0.734px;color:#2d72d9;-webkit-text-stroke:0.2px currentColor;">27</span><span class="t" style="left:1160.62px;top:334.00px;font-size:17.77px;letter-spacing:0.734px;color:#2d72d9;-webkit-text-stroke:0.2px currentColor;">28</span><span class="t" style="left:1334.04px;top:334.00px;font-size:17.77px;letter-spacing:0.734px;color:#2d72d9;-webkit-text-stroke:0.2px currentColor;">29</span><span class="t" style="left:1507.46px;top:334.00px;font-size:17.77px;letter-spacing:0.734px;color:#2d72d9;-webkit-text-stroke:0.2px currentColor;">30</span><span class="t" style="left:1682.51px;top:334.00px;font-size:17.77px;color:#2d72d9;-webkit-text-stroke:0.2px currentColor;">01</span><span class="t" style="left:1854.30px;top:334.00px;font-size:17.77px;letter-spacing:0.734px;color:#2d72d9;-webkit-text-stroke:0.2px currentColor;">02</span><span class="t" style="left:813.78px;top:482.00px;font-size:17.77px;letter-spacing:0.734px;color:#2d72d9;-webkit-text-stroke:0.2px currentColor;">03</span><span class="t" style="left:987.20px;top:482.00px;font-size:17.77px;letter-spacing:0.734px;color:#2d72d9;-webkit-text-stroke:0.2px currentColor;">04</span><span class="t" style="left:1160.62px;top:482.00px;font-size:17.77px;letter-spacing:0.734px;color:#2d72d9;-webkit-text-stroke:0.2px currentColor;">05</span><span class="t" style="left:1334.04px;top:482.00px;font-size:17.77px;letter-spacing:0.734px;color:#2d72d9;-webkit-text-stroke:0.2px currentColor;">06</span><span class="t" style="left:1507.46px;top:482.00px;font-size:17.77px;letter-spacing:0.734px;color:#2d72d9;-webkit-text-stroke:0.2px currentColor;">07</span><span class="t" style="left:1680.88px;top:482.00px;font-size:17.77px;letter-spacing:0.734px;color:#2d72d9;-webkit-text-stroke:0.2px currentColor;">08</span><span class="t" style="left:1854.30px;top:482.00px;font-size:17.77px;letter-spacing:0.734px;color:#2d72d9;-webkit-text-stroke:0.2px currentColor;">09</span><span class="t" style="left:814.51px;top:630.00px;font-size:17.77px;color:#2d72d9;-webkit-text-stroke:0.2px currentColor;">10</span><span class="t" style="left:990.14px;top:630.00px;font-size:17.77px;color:#2d72d9;-webkit-text-stroke:0.2px currentColor;">11</span><span class="t" style="left:1161.35px;top:630.00px;font-size:17.77px;color:#2d72d9;-webkit-text-stroke:0.2px currentColor;">12</span><span class="t" style="left:1334.77px;top:630.00px;font-size:17.77px;color:#2d72d9;-webkit-text-stroke:0.2px currentColor;">13</span><span class="t" style="left:1508.19px;top:630.00px;font-size:17.77px;color:#2d72d9;-webkit-text-stroke:0.2px currentColor;">14</span><span class="t" style="left:1681.61px;top:630.00px;font-size:17.77px;color:#2d72d9;-webkit-text-stroke:0.2px currentColor;">15</span><span class="t" style="left:1855.03px;top:630.00px;font-size:17.77px;color:#2d72d9;-webkit-text-stroke:0.2px currentColor;">16</span><span class="t" style="left:814.51px;top:778.00px;font-size:17.77px;color:#2d72d9;-webkit-text-stroke:0.2px currentColor;">17</span><span class="t" style="left:987.93px;top:778.00px;font-size:17.77px;color:#2d72d9;-webkit-text-stroke:0.2px currentColor;">18</span><span class="t" style="left:1161.35px;top:778.00px;font-size:17.77px;color:#2d72d9;-webkit-text-stroke:0.2px currentColor;">19</span><span class="t" style="left:1334.04px;top:778.00px;font-size:17.77px;letter-spacing:0.734px;color:#2d72d9;-webkit-text-stroke:0.2px currentColor;">20</span><span class="t" style="left:1509.09px;top:778.00px;font-size:17.77px;color:#2d72d9;-webkit-text-stroke:0.2px currentColor;">21</span><span class="t" style="left:1680.88px;top:778.00px;font-size:17.77px;letter-spacing:0.734px;color:#2d72d9;-webkit-text-stroke:0.2px currentColor;">22</span><span class="t" style="left:1854.30px;top:778.00px;font-size:17.77px;letter-spacing:0.734px;color:#2d72d9;-webkit-text-stroke:0.2px currentColor;">23</span><span class="t" style="left:813.78px;top:924.00px;font-size:17.77px;letter-spacing:0.734px;color:#2d72d9;-webkit-text-stroke:0.2px currentColor;">24</span><span class="t" style="left:987.20px;top:924.00px;font-size:17.77px;letter-spacing:0.734px;color:#2d72d9;-webkit-text-stroke:0.2px currentColor;">25</span><span class="t" style="left:1160.62px;top:924.00px;font-size:17.77px;letter-spacing:0.734px;color:#2d72d9;-webkit-text-stroke:0.2px currentColor;">26</span><span class="t" style="left:1334.04px;top:924.00px;font-size:17.77px;letter-spacing:0.734px;color:#2d72d9;-webkit-text-stroke:0.2px currentColor;">27</span><span class="t" style="left:1507.46px;top:924.00px;font-size:17.77px;letter-spacing:0.734px;color:#2d72d9;-webkit-text-stroke:0.2px currentColor;">28</span><span class="t" style="left:1680.88px;top:924.00px;font-size:17.77px;letter-spacing:0.734px;color:#2d72d9;-webkit-text-stroke:0.2px currentColor;">29</span><span class="t" style="left:1854.30px;top:924.00px;font-size:17.77px;letter-spacing:0.734px;color:#2d72d9;-webkit-text-stroke:0.2px currentColor;">30</span><span class="t" style="left:815.41px;top:1072.00px;font-size:17.77px;color:#2d72d9;-webkit-text-stroke:0.2px currentColor;">31</span><span class="t" style="left:988.83px;top:1072.00px;font-size:17.77px;color:#2d72d9;-webkit-text-stroke:0.2px currentColor;">01</span><span class="t" style="left:1160.62px;top:1072.00px;font-size:17.77px;letter-spacing:0.734px;color:#2d72d9;-webkit-text-stroke:0.2px currentColor;">02</span><span class="t" style="left:1334.04px;top:1072.00px;font-size:17.77px;letter-spacing:0.734px;color:#2d72d9;-webkit-text-stroke:0.2px currentColor;">03</span><span class="t" style="left:1507.46px;top:1072.00px;font-size:17.77px;letter-spacing:0.734px;color:#2d72d9;-webkit-text-stroke:0.2px currentColor;">04</span><span class="t" style="left:1680.88px;top:1072.00px;font-size:17.77px;letter-spacing:0.734px;color:#2d72d9;-webkit-text-stroke:0.2px currentColor;">05</span><span class="t" style="left:1854.30px;top:1072.00px;font-size:17.77px;letter-spacing:0.734px;color:#2d72d9;-webkit-text-stroke:0.2px currentColor;">06</span><div class="bar" style="left:929.2px;top:359.2px;width:40px;background:#fdebc6"></div><span class="t" style="left:848.41px;top:363.00px;font-size:15.67px;letter-spacing:0.239px;font-weight:700;color:#0f2347;">10:00 weekly statu…</span><div class="bar" style="left:1164.1px;top:359.2px;width:20px;background:#fdd9c9"></div><span class="t" style="left:1021.83px;top:363.00px;font-size:15.67px;letter-spacing:0.116px;font-weight:700;color:#0f2347;">13:00 Easy Softwar…</span><div class="bar" style="left:1602.4px;top:359.2px;width:101px;background:#dcd6f8"></div><span class="t" style="left:1542.09px;top:363.00px;font-size:15.67px;letter-spacing:0.706px;font-weight:700;color:#0f2347;">09:00 Vacation</span><div class="bar" style="left:1775.8px;top:359.2px;width:101px;background:#dcd6f8"></div><span class="t" style="left:1715.51px;top:363.00px;font-size:15.67px;letter-spacing:0.706px;font-weight:700;color:#0f2347;">09:00 Vacation</span><div class="bar" style="left:735.3px;top:507.2px;width:101px;background:#dcd6f8"></div><span class="t" style="left:674.99px;top:511.00px;font-size:15.67px;letter-spacing:0.706px;font-weight:700;color:#0f2347;">09:00 Vacation</span><div class="bar" style="left:908.7px;top:507.2px;width:101px;background:#dcd6f8"></div><span class="t" style="left:848.41px;top:511.00px;font-size:15.67px;letter-spacing:0.706px;font-weight:700;color:#0f2347;">09:00 Vacation</span><div class="bar" style="left:1082.1px;top:507.2px;width:101px;background:#dcd6f8"></div><span class="t" style="left:1021.83px;top:511.00px;font-size:15.67px;letter-spacing:0.706px;font-weight:700;color:#0f2347;">09:00 Vacation</span><div class="bar" style="left:1102.6px;top:531.6px;width:40px;background:#fdebc6"></div><span class="t" style="left:1021.83px;top:535.00px;font-size:15.67px;letter-spacing:0.239px;font-weight:700;color:#0f2347;">10:00 weekly statu…</span><div class="bar" style="left:1102.6px;top:655.2px;width:40px;background:#fdebc6"></div><span class="t" style="left:1021.83px;top:659.00px;font-size:15.67px;letter-spacing:0.239px;font-weight:700;color:#0f2347;">10:00 weekly statu…</span><div class="bar" style="left:1255.6px;top:655.2px;width:101px;background:#dcd6f8"></div><span class="t" style="left:1195.25px;top:659.00px;font-size:15.67px;letter-spacing:0.489px;font-weight:700;color:#0f2347;">09:00 Sick leave</span><div class="bar" style="left:1796.8px;top:655.2px;width:40px;background:#fdd9c9"></div><span class="t" style="left:1715.51px;top:659.00px;font-size:15.67px;letter-spacing:0.019px;font-weight:700;color:#0f2347;">10:00 Frank Johns…</span><div class="bar" style="left:1102.6px;top:803.2px;width:40px;background:#fdebc6"></div><span class="t" style="left:1021.83px;top:807.00px;font-size:15.67px;letter-spacing:0.239px;font-weight:700;color:#0f2347;">10:00 weekly statu…</span><div class="bar" style="left:1775.8px;top:803.2px;width:101px;background:#dcd6f8"></div><span class="t" style="left:1715.51px;top:807.00px;font-size:15.67px;letter-spacing:0.706px;font-weight:700;color:#0f2347;">09:00 Vacation</span><div class="bar" style="left:735.3px;top:950.4px;width:101px;background:#dcd6f8"></div><span class="t" style="left:674.99px;top:954.00px;font-size:15.67px;letter-spacing:0.706px;font-weight:700;color:#0f2347;">09:00 Vacation</span><div class="bar" style="left:1102.6px;top:950.4px;width:40px;background:#fdebc6"></div><span class="t" style="left:1021.83px;top:954.00px;font-size:15.67px;letter-spacing:0.239px;font-weight:700;color:#0f2347;">10:00 weekly statu…</span><div class="bar" style="left:1102.6px;top:1097.2px;width:40px;background:#fdebc6"></div><span class="t" style="left:1021.83px;top:1101.00px;font-size:15.67px;letter-spacing:0.239px;font-weight:700;color:#0f2347;">10:00 weekly statu…</span><div class="bar" style="left:1255.6px;top:1097.2px;width:101px;background:#dcd6f8"></div><span class="t" style="left:1195.25px;top:1101.00px;font-size:15.67px;letter-spacing:0.706px;font-weight:700;color:#0f2347;">09:00 Vacation</span><div class="sw" style="left:671px;background:#cde1fa"></div><span class="t" style="left:690.32px;top:1140.00px;font-size:18.81px;letter-spacing:0.069px;color:#0f2347;-webkit-text-stroke:0.3px currentColor;">Task</span><div class="sw" style="left:743.3px;background:#fdebc6"></div><span class="t" style="left:762.32px;top:1140.00px;font-size:18.81px;letter-spacing:0.332px;color:#0f2347;-webkit-text-stroke:0.3px currentColor;">Meeting</span><div class="sw" style="left:845px;background:#dcd6f8"></div><span class="t" style="left:863.92px;top:1140.00px;font-size:18.81px;letter-spacing:0.317px;color:#0f2347;-webkit-text-stroke:0.3px currentColor;">Attendance</span><div class="sw" style="left:976px;background:#f9c5e0"></div><span class="t" style="left:994.62px;top:1140.00px;font-size:18.81px;letter-spacing:0.219px;color:#0f2347;-webkit-text-stroke:0.3px currentColor;">Working attendance</span><div class="sw" style="left:1180px;background:#fddacb"></div><span class="t" style="left:1197.92px;top:1140.00px;font-size:18.81px;letter-spacing:0.197px;color:#0f2347;-webkit-text-stroke:0.3px currentColor;">Sales activity</span><div class="sw" style="left:1328.5px;background:#c2f2e1"></div><span class="t" style="left:1347.12px;top:1140.00px;font-size:18.81px;letter-spacing:0.063px;color:#0f2347;-webkit-text-stroke:0.3px currentColor;">Holiday</span><div class="sw" style="left:1428.7px;background:#d0d3dc"></div><span class="t" style="left:1447.62px;top:1140.00px;font-size:18.81px;letter-spacing:0.053px;color:#0f2347;-webkit-text-stroke:0.3px currentColor;">External event</span><svg style="left:1639px;top:1137px" width="26" height="25" viewBox="1639 1137 26 25" fill="none" stroke="#1e66dc" stroke-width="1.5" stroke-linejoin="round">
<rect x="1641.2" y="1141.6" width="21.8" height="18" rx="1.5"/><path d="M1641.2 1145.6 H1663 M1646.6 1138.4 V1141.6 M1657.6 1138.4 V1141.6"/></svg><a class="t" style="left:1664.32px;top:1142.00px;font-size:18.81px;color:#1e66dc;-webkit-text-stroke:0.45px currentColor;">iCal URL for events export</a></section></main></body></html>
